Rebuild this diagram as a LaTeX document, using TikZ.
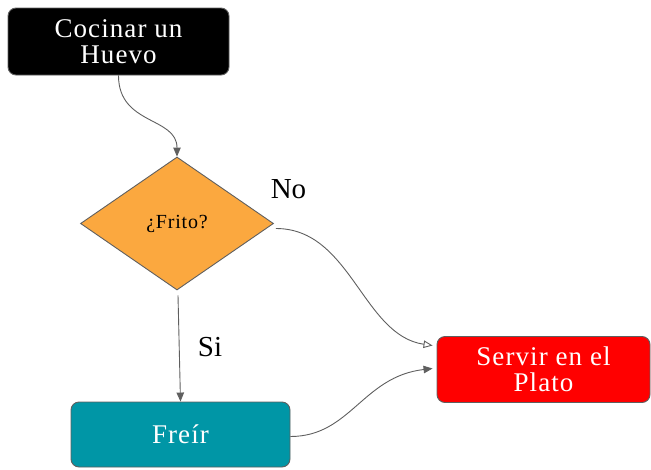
\documentclass[tikz,border=0pt]{standalone}
\usepackage{fontspec}
\setmainfont{Liberation Serif}
\newfontfamily\boxfont[LetterSpace=4]{Liberation Serif}
\usetikzlibrary{shapes.geometric,arrows.meta,calc}
\definecolor{eggorange}{HTML}{FBA83F}
\definecolor{eggteal}{HTML}{0096A6}
\definecolor{eggred}{HTML}{FF0000}
\definecolor{edgegray}{HTML}{5F5F5F}
\begin{document}
\begin{tikzpicture}[x=1pt,y=-1pt,
  procbox/.style={draw=edgegray, line width=0.9pt, rounded corners=8pt, inner sep=0pt,
    align=center, text=white, font=\boxfont\fontsize{27}{26.5}\selectfont},
  decision/.style={diamond, draw=edgegray, line width=0.9pt, fill=eggorange, inner sep=0pt,
    minimum width=193pt, minimum height=133pt, shape aspect=1.45, font=\boxfont\fontsize{20}{22}\selectfont},
  conn/.style={draw=edgegray, line width=0.9pt},
  lbl/.style={font=\fontsize{29}{30}\selectfont, inner sep=0pt}
]
\useasboundingbox (0,0) rectangle (651,469);
\node[procbox, fill=black, minimum width=221pt, minimum height=67pt] (cook) at (118.5,41.5) {Cocinar un\\Huevo};
\node[decision] (frito) at (177,223.5) {¿Frito?};
\node[procbox, fill=eggred, minimum width=213pt, minimum height=66pt] (serve) at (543.5,369.5) {Servir en el\\Plato};
\node[procbox, fill=eggteal, minimum width=219pt, minimum height=65pt] (fry) at (180.5,434.5) {Freír};
\node[lbl] (no) at (288.5,189) {No};
\node[lbl] (si) at (210,347) {Si};
\coordinate (nostart) at ($(frito.east)+(2,5)$);
\coordinate (noend) at ($(serve.west)+(-4,-24)$);
\coordinate (fryend) at ($(serve.west)+(-4,-1)$);
\coordinate (fryout) at ($(fry.east)+(0,2)$);
\coordinate (frin) at ($(frito.south)+(1,5)$);
\draw[conn, -{Triangle[length=9pt,width=7.5pt]}] (cook.south) .. controls +(0,50) and +(0,-40) .. (frito.north);
\draw[conn, -{Triangle[open,length=9pt,width=7.5pt]}] (nostart) .. controls +(75,0) and +(-70,-10) .. (noend);
\draw[conn, -{Triangle[length=9pt,width=7.5pt]}] (frin) -- (fry.north);
\draw[conn, -{Triangle[length=9pt,width=7.5pt]}] (fryout) .. controls +(60,0) and +(-70,8) .. (fryend);
\end{tikzpicture}
\end{document}
